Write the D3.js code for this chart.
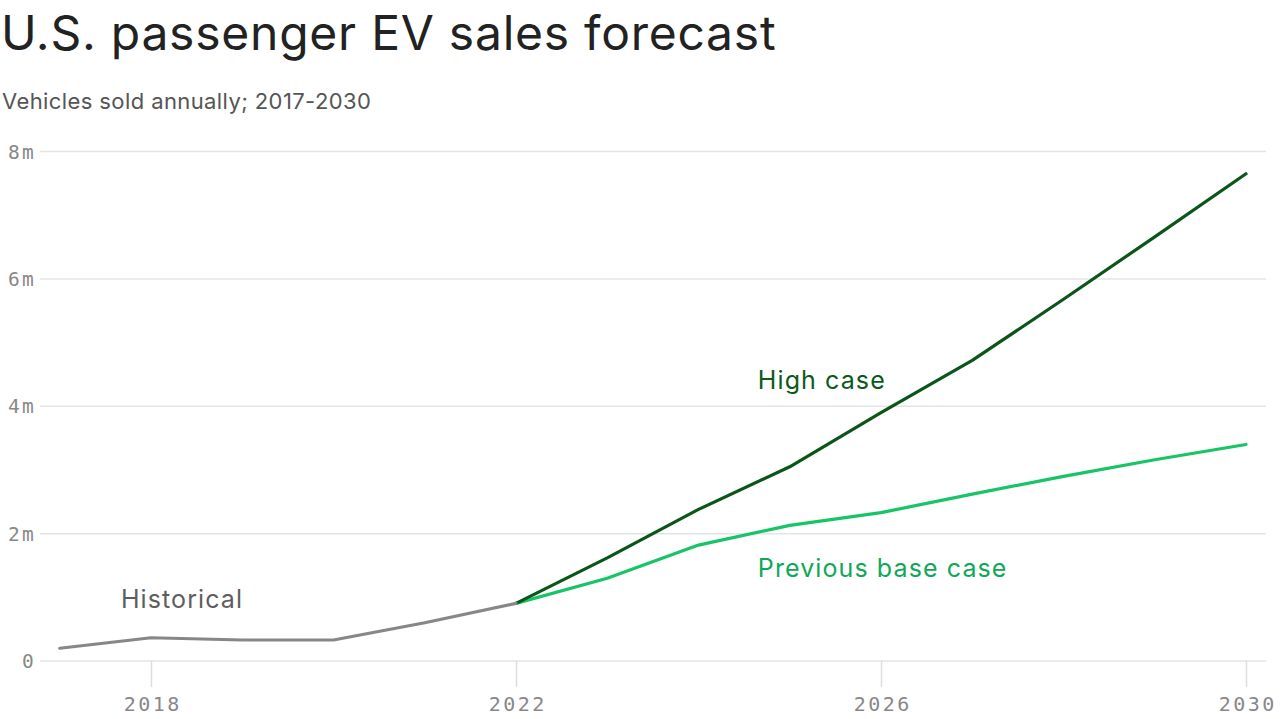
<!DOCTYPE html>
<html><head><meta charset="utf-8">
<script src="https://cdn.jsdelivr.net/npm/d3@7"></script>
<style>
html,body{margin:0;padding:0;background:#fff;}
svg{display:block;}
</style></head>
<body>
<svg id="chart" width="1280" height="719"></svg>
<script>
const title = "U.S. passenger EV sales forecast";
const subtitle = "Vehicles sold annually; 2017-2030";
const historicalYears = [2017, 2018, 2019, 2020, 2021, 2022];
const historicalValues = [0.20, 0.365, 0.33, 0.33, 0.60, 0.905];
const forecastYears = [2022, 2023, 2024, 2025, 2026, 2027, 2028, 2029, 2030];
const highCaseValues = [0.905, 1.62, 2.38, 3.05, 3.90, 4.72, 5.68, 6.66, 7.65];
const baseCaseValues = [0.905, 1.30, 1.82, 2.13, 2.33, 2.62, 2.90, 3.16, 3.40];
const yTicks = [0, 2, 4, 6, 8];
const yTickLabels = ["0", "2m", "4m", "6m", "8m"];
const xTicks = [2018, 2022, 2026, 2030];
const seriesLabels = [
  {text: "Historical", x: 2017.67, y: 0.83, color: "#5e5e5e"},
  {text: "High case", x: 2024.65, y: 4.27, color: "#0b5a1c"},
  {text: "Previous base case", x: 2024.65, y: 1.32, color: "#0fa857"}
];

const svg = d3.select("#chart");
const x = d3.scaleLinear().domain([2017, 2030]).range([59.75, 1246]);
const y = d3.scaleLinear().domain([0, 8]).range([661, 151.5]);

const sans = "Inter, 'Liberation Sans', sans-serif";
const mono = "'DejaVu Sans Mono', monospace";

svg.append("text").attr("x", 1).attr("y", 50)
  .attr("font-family", sans)
  .attr("font-size", 48).attr("fill", "#222").attr("letter-spacing", 0.75)
  .text(title);
svg.append("text").attr("x", 2).attr("y", 109)
  .attr("font-family", sans)
  .attr("font-size", 22).attr("fill", "#555").attr("letter-spacing", 0.4)
  .text(subtitle);

// grid
svg.append("g").selectAll("line").data(yTicks).join("line")
  .attr("x1", 40).attr("x2", 1266)
  .attr("y1", d => y(d)).attr("y2", d => y(d))
  .attr("stroke", "#e4e4e4").attr("stroke-width", 1.5);

// y labels
svg.append("g").selectAll("text").data(yTicks).join("text")
  .attr("x", 36).attr("y", d => y(d) + 7)
  .attr("text-anchor", "end")
  .attr("font-family", mono)
  .attr("font-size", 19.5).attr("fill", "#888").attr("letter-spacing", 2.2)
  .text((d, i) => yTickLabels[i]);

// x axis
const xAxis = d3.axisBottom(x).tickValues(xTicks).tickFormat(d3.format("d")).tickSize(26).tickPadding(10);
const gx = svg.append("g").attr("transform", "translate(0,661)").call(xAxis);
gx.select(".domain").remove();
gx.selectAll(".tick line").attr("stroke", "#dddddd").attr("stroke-width", 1.5);
gx.selectAll(".tick text").attr("font-family", mono)
  .attr("font-size", 20).attr("fill", "#888").attr("letter-spacing", 2.4)
  .attr("dx", 1.2);

const line = d3.line().x(d => x(d[0])).y(d => y(d[1]));

svg.append("path").datum(forecastYears.map((yr, i) => [yr, baseCaseValues[i]]))
  .attr("d", line).attr("fill", "none").attr("stroke", "#17c466")
  .attr("stroke-width", 3.2).attr("stroke-linejoin", "round").attr("stroke-linecap", "round");
svg.append("path").datum(forecastYears.map((yr, i) => [yr, highCaseValues[i]]))
  .attr("d", line).attr("fill", "none").attr("stroke", "#0a561a")
  .attr("stroke-width", 3.2).attr("stroke-linejoin", "round").attr("stroke-linecap", "round");
svg.append("path").datum(historicalYears.map((yr, i) => [yr, historicalValues[i]]))
  .attr("d", line).attr("fill", "none").attr("stroke", "#878787")
  .attr("stroke-width", 3.2).attr("stroke-linejoin", "round").attr("stroke-linecap", "round");

svg.append("g").selectAll("text").data(seriesLabels).join("text")
  .attr("x", d => x(d.x)).attr("y", d => y(d.y))
  .attr("font-family", sans)
  .attr("font-size", 25).attr("fill", d => d.color).attr("letter-spacing", 1.1)
  .text(d => d.text);
</script>
</body></html>
